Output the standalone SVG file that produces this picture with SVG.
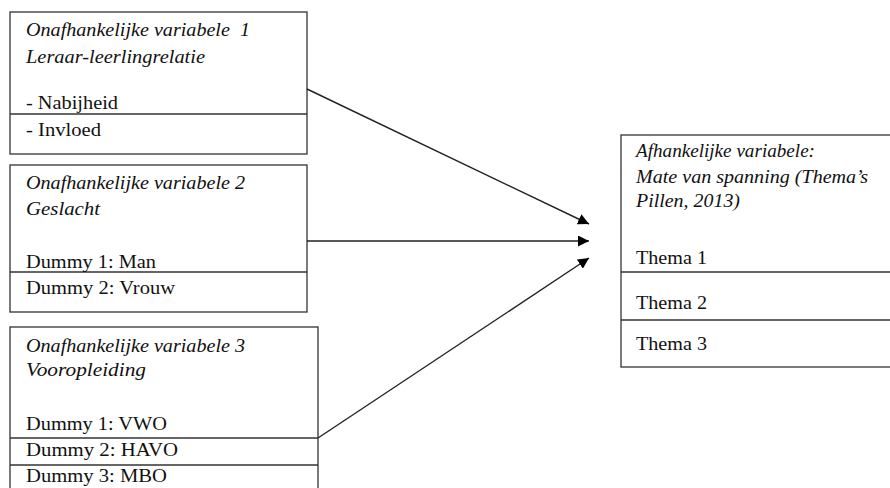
<svg xmlns="http://www.w3.org/2000/svg" width="890" height="488" viewBox="0 0 890 488">
<style>
.box{fill:#fff;stroke:#333;stroke-width:1.3}
.div{stroke:#333;stroke-width:1.3}
text{font-family:"Liberation Serif","Times New Roman",serif;font-size:18px;fill:#111}
.i{font-style:italic}
.con{stroke:#222;stroke-width:1.4;fill:none}
</style>
<defs>
<marker id="ah" viewBox="0 0 10 10" refX="10" refY="5" markerWidth="11" markerHeight="11" markerUnits="userSpaceOnUse" orient="auto">
<path d="M0,0 L10,5 L0,10 Z" fill="#000"/>
</marker>
</defs>
<rect width="890" height="488" fill="#fff"/>
<g id="node1">
<rect class="box" x="10" y="12" width="297" height="142"/>
<line class="div" x1="10" y1="114" x2="307" y2="114"/>
<text class="i" x="26" y="36" textLength="224" lengthAdjust="spacingAndGlyphs" xml:space="preserve">Onafhankelijke variabele  1</text>
<text class="i" x="26" y="63" textLength="179" lengthAdjust="spacingAndGlyphs">Leraar-leerlingrelatie</text>
<text x="26" y="109" textLength="92" lengthAdjust="spacingAndGlyphs">- Nabijheid</text>
<text x="26" y="136" textLength="75" lengthAdjust="spacingAndGlyphs">- Invloed</text>
</g>
<g id="node2">
<rect class="box" x="10" y="165" width="297" height="147"/>
<line class="div" x1="10" y1="272" x2="307" y2="272"/>
<text class="i" x="26" y="189" textLength="219" lengthAdjust="spacingAndGlyphs">Onafhankelijke variabele 2</text>
<text class="i" x="26" y="215" textLength="74" lengthAdjust="spacingAndGlyphs">Geslacht</text>
<text x="26" y="268" textLength="130" lengthAdjust="spacingAndGlyphs">Dummy 1: Man</text>
<text x="26" y="294" textLength="149" lengthAdjust="spacingAndGlyphs">Dummy 2: Vrouw</text>
</g>
<g id="node3">
<rect class="box" x="10" y="327" width="308" height="170"/>
<line class="div" x1="10" y1="438" x2="318" y2="438"/>
<line class="div" x1="10" y1="465" x2="318" y2="465"/>
<text class="i" x="26" y="352" textLength="219" lengthAdjust="spacingAndGlyphs">Onafhankelijke variabele 3</text>
<text class="i" x="26" y="376" textLength="120" lengthAdjust="spacingAndGlyphs">Vooropleiding</text>
<text x="26" y="430" textLength="141" lengthAdjust="spacingAndGlyphs">Dummy 1: VWO</text>
<text x="26" y="456" textLength="152" lengthAdjust="spacingAndGlyphs">Dummy 2: HAVO</text>
<text x="26" y="482" textLength="141" lengthAdjust="spacingAndGlyphs">Dummy 3: MBO</text>
</g>
<g id="node4">
<rect class="box" x="621" y="135" width="280" height="232"/>
<line class="div" x1="621" y1="272" x2="890" y2="272"/>
<line class="div" x1="621" y1="320" x2="890" y2="320"/>
<text class="i" x="636" y="157" textLength="179" lengthAdjust="spacingAndGlyphs">Afhankelijke variabele:</text>
<text class="i" x="636" y="183" textLength="232" lengthAdjust="spacingAndGlyphs">Mate van spanning (Thema’s</text>
<text class="i" x="636" y="207" textLength="104" lengthAdjust="spacingAndGlyphs">Pillen, 2013)</text>
<text x="636" y="264" textLength="71" lengthAdjust="spacingAndGlyphs">Thema 1</text>
<text x="636" y="309" textLength="71" lengthAdjust="spacingAndGlyphs">Thema 2</text>
<text x="636" y="350" textLength="71" lengthAdjust="spacingAndGlyphs">Thema 3</text>
</g>
<g id="connectors">
<line class="con" x1="307" y1="89" x2="589" y2="224" marker-end="url(#ah)"/>
<line class="con" x1="307" y1="241" x2="589" y2="241" marker-end="url(#ah)"/>
<line class="con" x1="318" y1="438" x2="589" y2="258" marker-end="url(#ah)"/>
</g>
</svg>
